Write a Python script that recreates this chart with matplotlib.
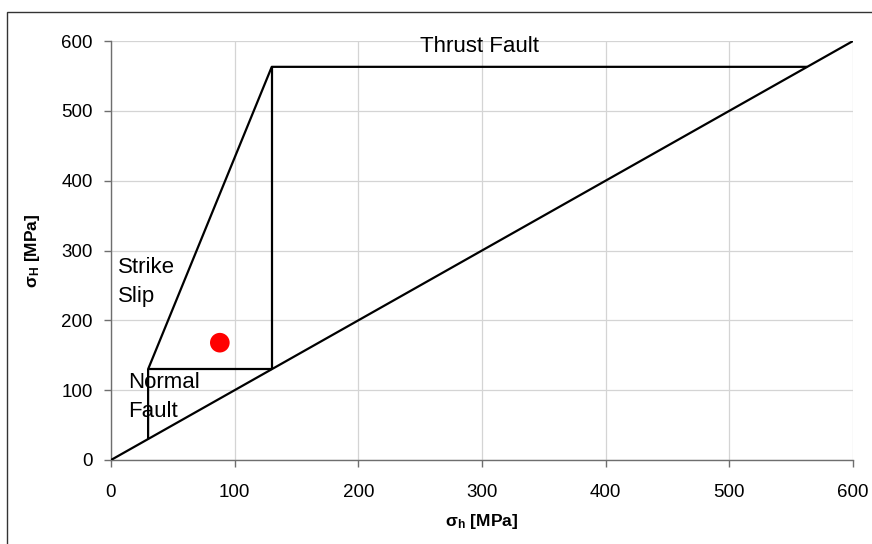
import matplotlib
matplotlib.use("Agg")
import matplotlib.pyplot as plt
from matplotlib.patches import Rectangle

plt.rcParams['font.family'] = ['Liberation Sans', 'DejaVu Sans']
plt.rcParams['mathtext.fontset'] = 'custom'
plt.rcParams['mathtext.rm'] = 'Liberation Sans'
plt.rcParams['mathtext.bf'] = 'Liberation Sans:bold'
plt.rcParams['mathtext.it'] = 'Liberation Sans:italic'

# Stress polygon (values in MPa)
diag_sh = [0, 600]
diag_sH = [0, 600]
outline_sh = [30, 30, 130, 563]
outline_sH = [30, 130, 563, 563]
nf_ss_sh = [30, 130]
nf_ss_sH = [130, 130]
ss_tf_sh = [130, 130]
ss_tf_sH = [130, 563]

# Measured stress state
point_sh = [88]
point_sH = [168]

ticks = [0, 100, 200, 300, 400, 500, 600]

fig = plt.figure(figsize=(8.72, 5.44), dpi=100)
ax = fig.add_axes([111 / 872, 1 - 460 / 544, 742 / 872, 419 / 544])

# Outer chart frame
fig.patches.append(Rectangle((7 / 872, -0.1), 1.2, (544 - 12) / 544 + 0.1,
                             transform=fig.transFigure, fill=False,
                             edgecolor='#333333', linewidth=1.0, zorder=0))

line_kw = dict(color='black', linewidth=1.6, solid_capstyle='butt', zorder=3)
ax.plot(diag_sh, diag_sH, **line_kw)
ax.plot(outline_sh, outline_sH, **line_kw)
ax.plot(nf_ss_sh, nf_ss_sH, **line_kw)
ax.plot(ss_tf_sh, ss_tf_sH, **line_kw)
ax.scatter(point_sh, point_sH, s=200, color='#ff0000', edgecolors='none', zorder=4)

ax.set_xlim(0, 600)
ax.set_ylim(0, 600)
ax.set_xticks(ticks)
ax.set_yticks(ticks)
ax.grid(True, color='#d4d4d4', linewidth=0.9, zorder=0)
ax.set_axisbelow(True)

for side in ('top', 'right'):
    ax.spines[side].set_visible(False)
for side in ('left', 'bottom'):
    ax.spines[side].set_color('#6e6e6e')
    ax.spines[side].set_linewidth(1.0)
ax.tick_params(direction='out', length=5, width=1.0, color='#6e6e6e',
               labelsize=13.5, labelcolor='black')
ax.tick_params(axis='x', pad=12)
ax.tick_params(axis='y', pad=8)

ax.set_xlabel(r'$\mathbf{\sigma_h}$ [MPa]', fontsize=12.5, fontweight='bold', labelpad=8)
ax.set_ylabel(r'$\mathbf{\sigma_H}$ [MPa]', fontsize=12.5, fontweight='bold', labelpad=14)

text_kw = dict(fontsize=16, color='black', zorder=5)
ax.text(250, 592, 'Thrust Fault', ha='left', va='center', **text_kw)
ax.text(5.5, 291, 'Strike\nSlip', ha='left', va='top', linespacing=1.5, **text_kw)
ax.text(13.5, 126, 'Normal\nFault', ha='left', va='top', linespacing=1.5, **text_kw)

fig.savefig('out.png', dpi=100)
